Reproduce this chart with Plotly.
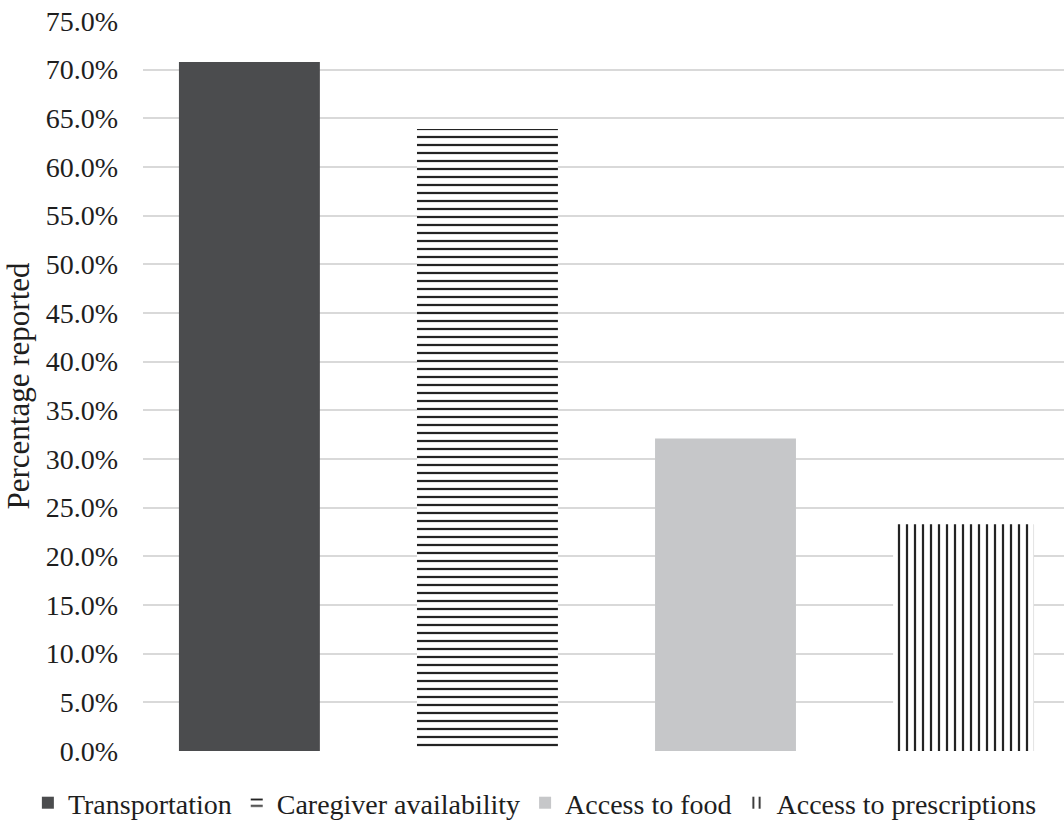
import plotly.graph_objects as go

# Reported barriers and share of respondents (%)
categories = ["Transportation", "Caregiver availability", "Access to food", "Access to prescriptions"]
values = [70.8, 63.9, 32.1, 23.3]
y_ticks = [i * 5 for i in range(16)]
y_tick_labels = [f"{v:.1f}%" for v in y_ticks]

FONT = "Liberation Serif"
TEXT = "#1e1e1e"

stripe = dict(fgcolor="#232323", bgcolor="white", fgopacity=1, size=8, solidity=0.28, fillmode="replace")
styles = [
    dict(color="#4b4c4e"),
    dict(color="#232323", pattern=dict(shape="-", **stripe)),
    dict(color="#c6c7c9"),
    dict(color="#232323", pattern=dict(shape="|", **stripe)),
]

fig = go.Figure()
for cat, val, st in zip(categories, values, styles):
    fig.add_trace(go.Bar(
        x=[cat], y=[val], name=cat, width=0.592,
        marker=dict(line=dict(width=0), **st),
    ))

fig.update_layout(
    width=1064, height=824,
    margin=dict(l=143, r=0, t=21, b=73, autoexpand=False),
    paper_bgcolor="white", plot_bgcolor="white",
    barmode="overlay",
    font=dict(family=FONT, size=28, color=TEXT),
    showlegend=True,
    legend=dict(orientation="h", x=-0.125, xanchor="left",
                y=-0.037, yanchor="top",
                font=dict(family=FONT, size=28, color=TEXT),
                itemwidth=30, traceorder="normal"),
    xaxis=dict(type="category", categoryorder="array", categoryarray=categories,
               range=[-0.447, 3.422], showticklabels=False, showgrid=False,
               zeroline=False, showline=False),
    yaxis=dict(range=[0, 75], tickvals=y_ticks, ticktext=y_tick_labels,
               showgrid=True, gridcolor="#d9d9d9", gridwidth=1.5,
               zeroline=False, showline=False, ticklabelstandoff=24,
               tickfont=dict(family=FONT, size=28, color=TEXT),
               title=dict(text="Percentage reported", standoff=6,
                          font=dict(family=FONT, size=31, color=TEXT))),
)

fig.write_html("out.html")
